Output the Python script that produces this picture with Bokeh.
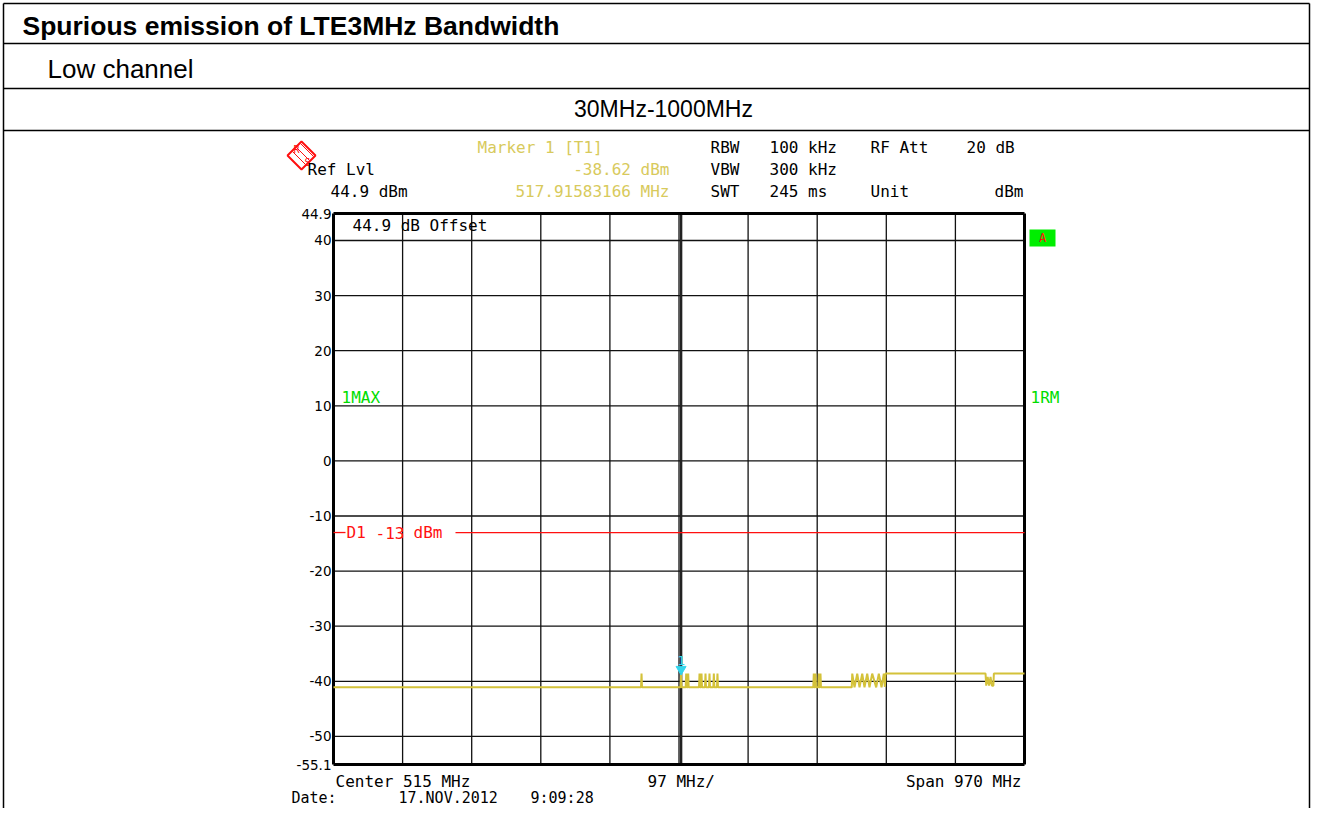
from bokeh.plotting import figure
from bokeh.models import Range1d
from bokeh.core.properties import value
from bokeh.embed import file_html
from bokeh.resources import INLINE

# ---------------- data ----------------
TABLE_TITLE = "Spurious emission of LTE3MHz Bandwidth"
TABLE_CHANNEL = "Low channel"
TABLE_RANGE = "30MHz-1000MHz"

F_START_MHZ = 30.0
F_STOP_MHZ = 1000.0
REF_LEVEL_DBM = 44.9
BOTTOM_LEVEL_DBM = -55.1
FREQ_DIVISIONS_MHZ = [30, 127, 224, 321, 418, 515, 612, 709, 806, 903, 1000]
LEVEL_GRID_DBM = [40, 30, 20, 10, 0, -10, -20, -30, -40, -50]
LEVEL_TICKS_DBM = [44.9, 40, 30, 20, 10, 0, -10, -20, -30, -40, -50, -55.1]
LEVEL_TICK_LABELS = ["44.9", "40", "30", "20", "10", "0", "-10", "-20",
                     "-30", "-40", "-50", "-55.1"]
D1_LIMIT_DBM = -13
MARKER_FREQ_MHZ = 517.91583166
MARKER_LEVEL_DBM = -38.62

TRACE_FREQ_MHZ = [
    30.0, 461.7, 462.4, 463.1,
    517.2, 517.9, 518.6, 524.4, 525.1, 525.8, 527.2, 527.9, 528.6,
    543.1, 543.8, 544.5, 545.9, 546.6, 547.3,
    551.5, 552.2, 552.9, 557.1, 557.8, 558.5,
    563.2, 563.9, 564.6, 568.3, 569.0, 569.7,
    703.5, 704.2, 704.9, 705.9, 706.6, 707.3,
    710.6, 711.3, 712.0, 712.9, 713.6, 714.3,
    757.5, 758.2, 761.4, 765.2, 768.4, 772.2, 775.4, 779.2, 782.4, 786.2,
    791.8, 795.5, 799.3, 802.5, 804.0, 804.9,
    945.3, 946.3, 948.3, 950.3, 952.3, 954.3, 956.3, 957.0, 1000.0,
]
TRACE_LEVEL_DBM = [
    -41.1, -41.1, -38.6, -41.1,
    -41.1, -38.62, -41.1, -41.1, -38.6, -41.1, -41.1, -38.6, -41.1,
    -41.1, -38.6, -41.1, -41.1, -38.6, -41.1,
    -41.1, -38.6, -41.1, -41.1, -38.6, -41.1,
    -41.1, -38.6, -41.1, -41.1, -38.6, -41.1,
    -41.1, -38.6, -41.1, -41.1, -38.6, -41.1,
    -41.1, -38.6, -41.1, -41.1, -38.6, -41.1,
    -41.1, -38.6, -41.1, -38.6, -41.1, -38.6, -41.1, -38.6, -41.1, -38.6,
    -41.1, -38.6, -41.1, -38.6, -41.0, -38.6,
    -38.6, -40.8, -39.2, -40.8, -39.2, -40.8, -40.8, -38.6, -38.6,
]

HEADER_LEFT = [("Ref Lvl", 307, 169), ("44.9 dBm", 330, 191)]
HEADER_MARKER = [("Marker 1 [T1]", 477, 147, "left"),
                 ("-38.62 dBm", 669, 169, "right"),
                 ("517.91583166 MHz", 669, 191, "right")]
HEADER_SETTINGS = [("RBW", 710, 147), ("100 kHz", 769, 147), ("RF Att", 870, 147),
                   ("20 dB", 966, 147), ("VBW", 710, 169), ("300 kHz", 769, 169),
                   ("SWT", 710, 191), ("245 ms", 769, 191), ("Unit", 870, 191)]
FOOTER_AXIS = [("Center 515 MHz", 335, 781, "left"), ("97 MHz/", 647, 781, "left"),
               ("Span 970 MHz", 1021, 781, "right")]
FOOTER_DATE = [("Date:", 291, 797, "left"), ("17.NOV.2012", 398, 797, "left"),
               ("9:09:28", 530, 797, "left")]

# ---------------- layout ----------------
W, H = 1311, 808
PX0, PY0 = 0, 0
GX0, GX1, GY0, GY1 = 333, 1024, 213, 764

TRACE_COLOR = "#d4c23a"
MARKER_TXT = "#d8ca5c"
GREEN = "#00dd00"
RED = "#ff1010"
CYAN = "#33d6ee"
MONO = value("DejaVu Sans Mono")
SANS = value("Liberation Sans")

p = figure(width=W, height=H,
           x_range=Range1d(PX0, PX0 + W), y_range=Range1d(PY0 + H, PY0),
           x_axis_location=None, y_axis_location=None,
           toolbar_location=None, output_backend="svg", min_border=0,
           outline_line_color=None, background_fill_color="white",
           border_fill_color="white")
p.xgrid.visible = False
p.ygrid.visible = False

mhz_per_px = (F_STOP_MHZ - F_START_MHZ) / (GX1 - GX0)
db_per_px = (REF_LEVEL_DBM - BOTTOM_LEVEL_DBM) / (GY1 - GY0)
p.extra_x_ranges = {"mhz": Range1d(F_START_MHZ - (GX0 - PX0) * mhz_per_px,
                                   F_STOP_MHZ + (PX0 + W - GX1) * mhz_per_px)}
p.extra_y_ranges = {"dbm": Range1d(BOTTOM_LEVEL_DBM - (PY0 + H - GY1) * db_per_px,
                                   REF_LEVEL_DBM + (GY0 - PY0) * db_per_px)}
ANA = dict(x_range_name="mhz", y_range_name="dbm")


def txt(x, y, s, color="black", size="16px", align="left", font=MONO,
        style="normal", baseline="middle", **kw):
    p.text(x=[x], y=[y], text=[s], text_color=color, text_font_size=size,
           text_align=align, text_baseline=baseline, text_font=font,
           text_font_style=style, **kw)


# ---- table ----
tl = 1.5
TL, TR, TT = 3, W - 2, 3
p.segment(x0=[TL] * 4, x1=[TR] * 4, y0=[TT, 43, 88, 130], y1=[TT, 43, 88, 130],
          line_color="black", line_width=tl)
p.segment(x0=[TL, TR], x1=[TL, TR], y0=[TT, TT], y1=[PY0 + H, PY0 + H],
          line_color="black", line_width=tl)
txt(22, 25, TABLE_TITLE, size="26.5px", font=SANS, style="bold")
txt(47, 68, TABLE_CHANNEL, size="26px", font=SANS)
txt(663, 108, TABLE_RANGE, size="23px", font=SANS, align="center")

# ---- R&S logo ----
p.patch(x=[287, 301, 315, 301], y=[155, 141, 155, 169], fill_color=None,
        line_color=RED, line_width=2)
p.segment(x0=[292, 296, 300], y0=[151, 147, 143], x1=[305, 309, 313], y1=[164, 160, 156],
          line_color=RED, line_width=1)
txt(296, 149, "R", color=RED, size="10px", align="center")
txt(307, 162, "S", color=RED, size="10px", align="center")

# ---- header texts ----
for s, x, y in HEADER_LEFT:
    txt(x, y, s)
for s, x, y, a in HEADER_MARKER:
    txt(x, y, s, color=MARKER_TXT, align=a)
for s, x, y in HEADER_SETTINGS:
    txt(x, y, s)
txt(1023, 191, "dBm", align="right")

# ---- analyzer grid ----
inner_f = FREQ_DIVISIONS_MHZ[1:-1]
p.segment(x0=inner_f, x1=inner_f, y0=[BOTTOM_LEVEL_DBM] * len(inner_f),
          y1=[REF_LEVEL_DBM] * len(inner_f), line_color="#111111", line_width=1.3, **ANA)
p.segment(x0=[F_START_MHZ] * len(LEVEL_GRID_DBM), x1=[F_STOP_MHZ] * len(LEVEL_GRID_DBM),
          y0=LEVEL_GRID_DBM, y1=LEVEL_GRID_DBM, line_color="#111111", line_width=1.3, **ANA)
p.segment(x0=[MARKER_FREQ_MHZ], x1=[MARKER_FREQ_MHZ], y0=[BOTTOM_LEVEL_DBM],
          y1=[REF_LEVEL_DBM], line_color="#222222", line_width=2.5, **ANA)
p.segment(x0=[F_START_MHZ, F_STOP_MHZ, F_START_MHZ, F_START_MHZ],
          x1=[F_START_MHZ, F_STOP_MHZ, F_STOP_MHZ, F_STOP_MHZ],
          y0=[BOTTOM_LEVEL_DBM, BOTTOM_LEVEL_DBM, REF_LEVEL_DBM, BOTTOM_LEVEL_DBM],
          y1=[REF_LEVEL_DBM, REF_LEVEL_DBM, REF_LEVEL_DBM, BOTTOM_LEVEL_DBM],
          line_color="black", line_width=3, **ANA)

# y tick labels
p.text(x=[GX0 - 2] * len(LEVEL_TICKS_DBM), y=LEVEL_TICKS_DBM, text=LEVEL_TICK_LABELS,
       text_align="right", text_baseline="middle", text_font=value("DejaVu Sans"),
       text_font_size="13.5px", text_color="black", y_range_name="dbm")

# D1 limit line with gap for its label
gap0 = F_START_MHZ + (345 - GX0) * mhz_per_px
gap1 = F_START_MHZ + (455 - GX0) * mhz_per_px
p.segment(x0=[F_START_MHZ, gap1], x1=[gap0, F_STOP_MHZ], y0=[D1_LIMIT_DBM] * 2,
          y1=[D1_LIMIT_DBM] * 2, line_color=RED, line_width=1.3, **ANA)
for s, x in [("D1", 346), ("-13", 375), ("dBm", 413)]:
    p.text(x=[x], y=[D1_LIMIT_DBM], text=[s], text_color=RED, text_font=MONO,
           text_font_size="16px", text_align="left", text_baseline="middle",
           y_range_name="dbm")

# trace
p.line(TRACE_FREQ_MHZ, TRACE_LEVEL_DBM, line_color=TRACE_COLOR, line_width=2, **ANA)

# marker
p.scatter(x=[MARKER_FREQ_MHZ], y=[MARKER_LEVEL_DBM + 0.8], marker="inverted_triangle",
          size=10, fill_color=CYAN, line_color=CYAN, **ANA)
p.text(x=[MARKER_FREQ_MHZ], y=[MARKER_LEVEL_DBM], text=["1"], text_color=CYAN,
       text_font=MONO, text_font_size="13px", text_align="center",
       text_baseline="bottom", y_offset=-9, **ANA)

# in-grid texts
txt(352, 225, "44.9 dB Offset")
txt(341, 397, "1MAX", color=GREEN)
txt(1030, 397, "1RM", color=GREEN)
p.quad(left=[1029], right=[1055], top=[229], bottom=[246], fill_color="#00ee00",
       line_color=None)
txt(1042, 237.5, "A", color=RED, size="12px", align="center")

for s, x, y, a in FOOTER_AXIS:
    txt(x, y, s, align=a)
for s, x, y, a in FOOTER_DATE:
    txt(x, y, s, align=a, size="15px")

open("out.html", "w").write(file_html(p, INLINE))
